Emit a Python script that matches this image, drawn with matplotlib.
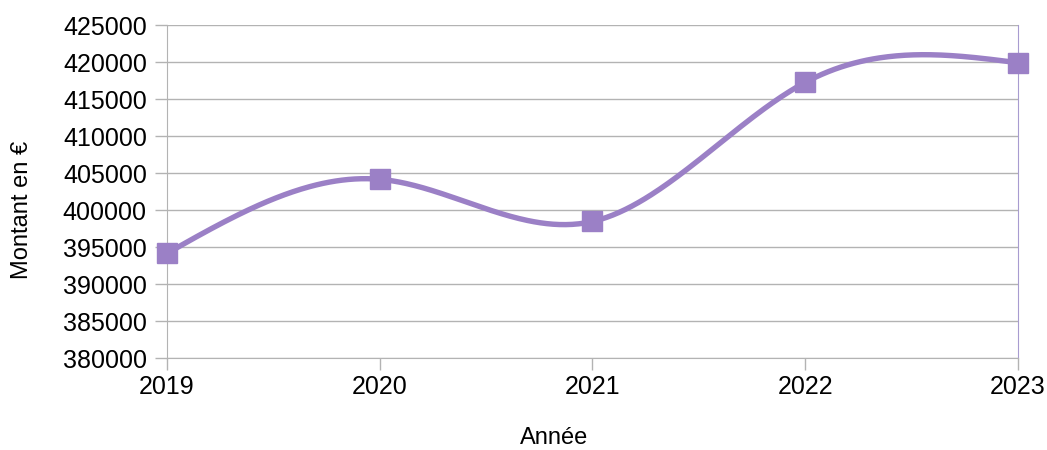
import numpy as np
import matplotlib.pyplot as plt

# Montant annuel
annees = [2019, 2020, 2021, 2022, 2023]
montants = [394150, 404150, 398450, 417250, 419900]
yticks = list(range(380000, 425001, 5000))

plt.rcParams['font.family'] = ['Liberation Sans', 'DejaVu Sans']

def spline_naturelle(x, y, xs):
    # spline cubique naturelle
    x = np.asarray(x, float)
    y = np.asarray(y, float)
    n = len(x)
    h = np.diff(x)
    A = np.zeros((n, n))
    b = np.zeros(n)
    A[0, 0] = A[-1, -1] = 1
    for i in range(1, n - 1):
        A[i, i - 1] = h[i - 1]
        A[i, i] = 2 * (h[i - 1] + h[i])
        A[i, i + 1] = h[i]
        b[i] = 6 * ((y[i + 1] - y[i]) / h[i] - (y[i] - y[i - 1]) / h[i - 1])
    M = np.linalg.solve(A, b)
    idx = np.clip(np.searchsorted(x, xs) - 1, 0, n - 2)
    x0, x1 = x[idx], x[idx + 1]
    hh = x1 - x0
    t0, t1 = x1 - xs, xs - x0
    return (M[idx] * t0**3 / (6 * hh) + M[idx + 1] * t1**3 / (6 * hh)
            + (y[idx] / hh - M[idx] * hh / 6) * t0
            + (y[idx + 1] / hh - M[idx + 1] * hh / 6) * t1)

couleur = '#9b80c6'
gris = '#b3b3b3'

fig = plt.figure(figsize=(10.47, 4.5), dpi=100)
ax = fig.add_axes([0.1595, 0.2044, 0.8128, 0.74])

xs = np.linspace(annees[0], annees[-1], 400)
ax.plot(xs, spline_naturelle(annees, montants, xs), color=couleur, lw=3.9,
        solid_capstyle='round', zorder=3, clip_on=False)
ax.plot(annees, montants, 's', color=couleur, ms=14.5, zorder=4, clip_on=False)

ax.set_xlim(2019, 2023)
ax.set_ylim(380000, 425000)
ax.set_yticks(yticks)
ax.set_yticklabels([str(v) for v in yticks])
ax.set_xticks(annees)
ax.set_xticklabels([str(a) for a in annees])

ax.grid(axis='y', color=gris, lw=1)
ax.set_axisbelow(True)
ax.spines['top'].set_visible(False)
ax.spines['left'].set_color(gris)
ax.spines['bottom'].set_color(gris)
ax.spines['right'].set_color('#a89cd0')
ax.tick_params(axis='both', colors=gris, labelcolor='black', labelsize=18,
               length=8.5, width=1)
ax.tick_params(axis='y', pad=6)
ax.tick_params(axis='x', pad=4)

ax.set_ylabel('Montant en €', fontsize=17, labelpad=6)
ax.yaxis.set_label_coords(-0.158, 0.445)
ax.set_xlabel('Année', fontsize=17)
ax.xaxis.set_label_coords(0.455, -0.207)

fig.savefig('out.png', dpi=100)
